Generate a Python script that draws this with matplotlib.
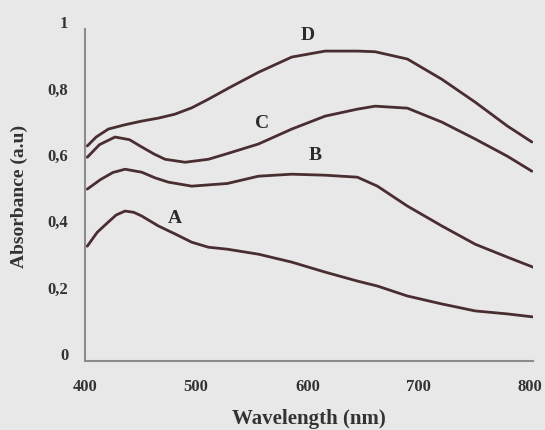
import matplotlib.pyplot as plt
from matplotlib.transforms import ScaledTranslation

# valeurs (longueur d'onde en nm, absorbance)
wl_d = [402, 410, 421, 436, 451, 466, 481, 496, 511, 530, 556, 586, 616, 645, 661, 690, 721, 751, 780, 802]
abs_d = [0.648, 0.675, 0.699, 0.712, 0.723, 0.732, 0.744, 0.763, 0.789, 0.824, 0.870, 0.916, 0.934, 0.934, 0.932, 0.910, 0.849, 0.780, 0.708, 0.660]

wl_c = [402, 413, 427, 440, 451, 462, 472, 490, 511, 528, 556, 586, 616, 645, 661, 690, 721, 751, 780, 802]
abs_c = [0.614, 0.652, 0.675, 0.667, 0.645, 0.624, 0.608, 0.599, 0.608, 0.625, 0.654, 0.699, 0.738, 0.759, 0.768, 0.762, 0.720, 0.669, 0.617, 0.572]

wl_b = [402, 414, 425, 436, 451, 463, 475, 496, 528, 556, 586, 616, 645, 663, 690, 721, 751, 780, 803]
abs_b = [0.518, 0.547, 0.568, 0.578, 0.569, 0.552, 0.539, 0.527, 0.535, 0.557, 0.563, 0.560, 0.554, 0.527, 0.467, 0.407, 0.352, 0.313, 0.283]

wl_a = [402, 411, 421, 428, 436, 444, 451, 466, 481, 496, 511, 528, 556, 586, 616, 645, 663, 690, 721, 751, 780, 803]
abs_a = [0.346, 0.388, 0.419, 0.440, 0.452, 0.448, 0.437, 0.407, 0.383, 0.358, 0.343, 0.337, 0.322, 0.298, 0.268, 0.241, 0.226, 0.196, 0.172, 0.151, 0.142, 0.133]

curve_names = ['A', 'B', 'C', 'D']
name_x = [481, 607, 559, 600]
name_y = [0.434, 0.623, 0.72, 0.985]

x_ticks = [400, 500, 600, 700, 800]
y_ticks = [0, 0.2, 0.4, 0.6, 0.8, 1]
y_tick_labels = ['0', '0,2', '0,4', '0,6', '0,8', '1']

fond = '#e8e8e8'
trait = '#4a2d30'
serif = ['Liberation Serif', 'DejaVu Serif']

fig = plt.figure(figsize=(5.45, 4.31), dpi=100, facecolor=fond)
ax = fig.add_axes([0.156, 0.160, 0.822, 0.770], facecolor=fond)

for wl, ab in [(wl_a, abs_a), (wl_b, abs_b), (wl_c, abs_c), (wl_d, abs_d)]:
    ax.plot(wl, ab, color=trait, linewidth=2.0, solid_joinstyle='round',
            solid_capstyle='round')

for nom, xx, yy in zip(curve_names, name_x, name_y):
    ax.text(xx, yy, nom, ha='center', va='center', fontsize=14,
            fontweight='bold', family=serif, color='#2b2b2b')

ax.set_xlim(400, 803)
ax.set_ylim(0, 1.0)
ax.set_xticks(x_ticks)
ax.set_yticks(y_ticks)
ax.set_yticklabels(y_tick_labels)
ax.tick_params(length=0, labelsize=12, colors='#333333')
ax.tick_params(axis='x', pad=12)
ax.tick_params(axis='y', pad=12)
for lab in ax.get_xticklabels() + ax.get_yticklabels():
    lab.set_family(serif)
    lab.set_fontweight('bold')
# les etiquettes de l'axe y sont un peu au-dessus des valeurs
decal = ScaledTranslation(0, 0.08, fig.dpi_scale_trans)
for lab in ax.get_yticklabels():
    lab.set_transform(lab.get_transform() + decal)

for cote in ['top', 'right']:
    ax.spines[cote].set_visible(False)
for cote in ['left', 'bottom']:
    ax.spines[cote].set_color('#8c8c8c')
    ax.spines[cote].set_linewidth(1.5)

ax.set_xlabel('Wavelength (nm)', fontsize=15, fontweight='bold', family=serif,
              color='#333333', labelpad=10)
ax.set_ylabel('Absorbance (a.u)', fontsize=14, fontweight='bold', family=serif,
              color='#333333', labelpad=14)

fig.savefig('out.png', dpi=100, facecolor=fond)
